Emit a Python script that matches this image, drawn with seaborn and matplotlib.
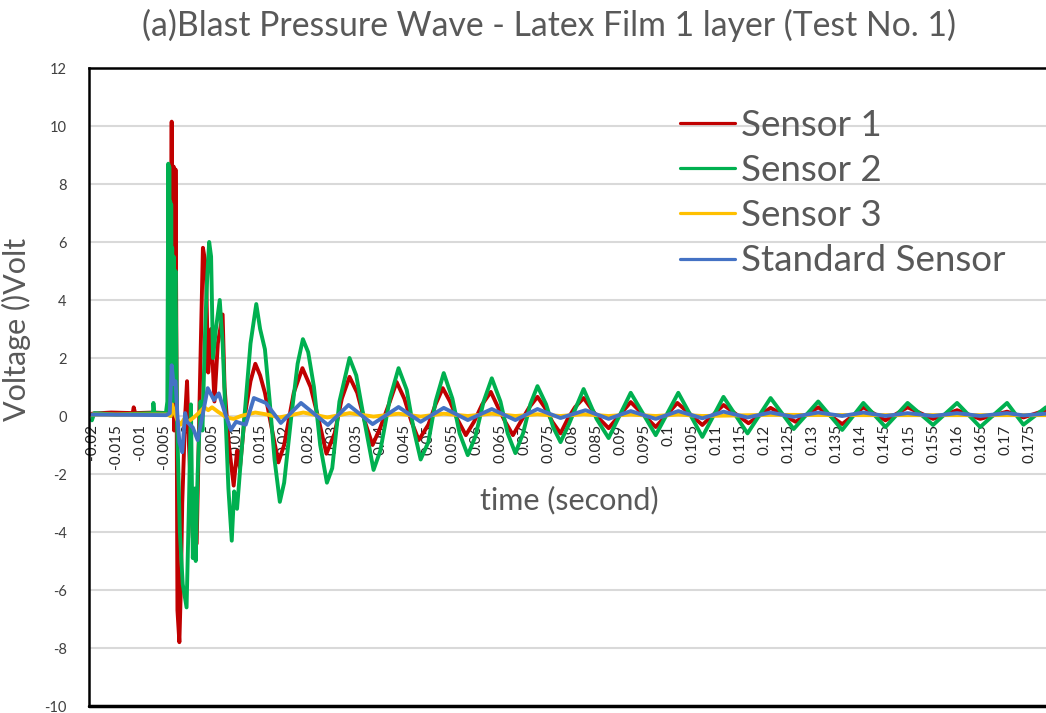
import numpy as np
import pandas as pd
import matplotlib
matplotlib.use("Agg")
import matplotlib.pyplot as plt
import seaborn as sns

# ---- recorded signals (time in s, voltage in V) ----
s1_t = [-0.0200, -0.0160, -0.0115, -0.0113, -0.0110, -0.0070, -0.0045, -0.0036,
        -0.0034, -0.0033, -0.0032, -0.0031, -0.0030, -0.0029, -0.0028, -0.0027,
        -0.0026, -0.0024, -0.0022, -0.0018, -0.0015, -0.0012,
        -0.0006, -0.0002, 0.0002, 0.0010, 0.0018, 0.0024, 0.0031, 0.0037,
        0.0042, 0.0048, 0.0055, 0.0062, 0.0072, 0.0076, 0.0085, 0.0095,
        0.0102, 0.0108, 0.0118, 0.0130, 0.0140, 0.0150, 0.0160, 0.0175,
        0.0188, 0.0200, 0.0220, 0.0238, 0.0255, 0.0270, 0.0288, 0.0305,
        0.0320, 0.0336, 0.0352, 0.0368, 0.0384, 0.0400, 0.0420, 0.0434,
        0.0450, 0.0465, 0.0480, 0.0500, 0.0515, 0.0530, 0.0545, 0.0560,
        0.0578, 0.0595, 0.0612, 0.0630, 0.0645, 0.0660, 0.0676, 0.0692,
        0.0710, 0.0727, 0.0742, 0.0758, 0.0775, 0.0790, 0.0805, 0.0823,
        0.0850, 0.0875, 0.0921, 0.0973, 0.1018, 0.1070, 0.1114, 0.1166,
        0.1212, 0.1264, 0.1311, 0.1361, 0.1405, 0.1451, 0.1497, 0.1550,
        0.1600, 0.1648, 0.1704, 0.1738, 0.1785]
s1_v = [0.08, 0.12, 0.10, 0.30, 0.10, 0.12, 0.10, 0.20,
        10.15, 0.50, 8.60, 1.00, 8.60, -0.50, 8.50, 0.00,
        8.50, 2.00, -6.70, -7.80, -6.00, -3.00,
        0.00, 1.20, -1.00, -4.20, -4.40, 0.50, 5.80, 5.20,
        1.50, 3.00, 0.50, 2.50, 3.50, 1.00, -1.00, -2.40,
        -1.20, -1.80, 0.00, 1.20, 1.80, 1.40, 0.80, -0.50,
        -1.60, -1.00, 0.80, 1.65, 1.00, 0.00, -1.30, -0.60,
        0.60, 1.35, 0.80, -0.20, -1.00, -0.40, 0.50, 1.17,
        0.60, -0.20, -0.83, -0.30, 0.40, 0.96, 0.50, -0.10,
        -0.66, -0.20, 0.40, 0.83, 0.30, -0.20, -0.66, -0.20,
        0.30, 0.66, 0.30, -0.20, -0.60, -0.10, 0.30, 0.62,
        0.00, -0.42, 0.48, -0.38, 0.45, -0.31, 0.38, -0.25,
        0.28, -0.20, 0.30, -0.28, 0.30, -0.15, 0.30, -0.10,
        0.20, -0.10, 0.15, -0.05, 0.20]

s2_t = [-0.0200, -0.0195, -0.0150, -0.0073, -0.0072, -0.0070, -0.0046, -0.0043,
        -0.0041, -0.0040, -0.0039, -0.0038, -0.0037, -0.0036, -0.0035, -0.0034,
        -0.0033, -0.0031, -0.0030, -0.0028, -0.0026, -0.0023, -0.0017,
        -0.0011, -0.0003, 0.0002, 0.0006, 0.0010, 0.0014, 0.0016, 0.0020,
        0.0026, 0.0030, 0.0036, 0.0040, 0.0044, 0.0048, 0.0052, 0.0058,
        0.0066, 0.0072, 0.0078, 0.0084, 0.0091, 0.0096, 0.0102, 0.0110,
        0.0120, 0.0130, 0.0142, 0.0150, 0.0160, 0.0170, 0.0180, 0.0191,
        0.0200, 0.0215, 0.0228, 0.0239, 0.0250, 0.0262, 0.0275, 0.0289,
        0.0300, 0.0315, 0.0336, 0.0350, 0.0365, 0.0386, 0.0400, 0.0420,
        0.0438, 0.0455, 0.0470, 0.0484, 0.0500, 0.0515, 0.0532, 0.0550,
        0.0565, 0.0582, 0.0598, 0.0615, 0.0632, 0.0650, 0.0665, 0.0681,
        0.0697, 0.0712, 0.0727, 0.0745, 0.0760, 0.0775, 0.0792, 0.0823,
        0.0850, 0.0875, 0.0921, 0.0973, 0.1020, 0.1070, 0.1114, 0.1164,
        0.1212, 0.1260, 0.1311, 0.1361, 0.1405, 0.1451, 0.1497, 0.1550,
        0.1600, 0.1648, 0.1704, 0.1738, 0.1785]
s2_v = [-0.15, 0.10, 0.05, 0.10, 0.45, 0.10, 0.10, 0.50,
        8.70, 0.50, 8.60, 1.00, 7.40, 0.00, 7.30, 2.00,
        5.80, 0.50, 5.50, 3.00, 5.00, 0.00, -4.00,
        -5.80, -6.60, -3.00, 0.40, -4.90, -2.50, -5.00, -2.00,
        0.50, -0.50, 3.20, 4.80, 6.00, 5.50, 2.00, 3.00,
        4.00, 2.50, 0.00, -2.50, -4.30, -2.60, -3.20, -1.50,
        0.50, 2.50, 3.86, 3.00, 2.30, 0.50, -1.50, -2.96,
        -2.30, 0.00, 1.80, 2.65, 2.20, 1.00, -1.00, -2.30,
        -1.80, 0.50, 2.00, 1.40, 0.00, -1.86, -1.20, 0.60,
        1.65, 0.90, -0.50, -1.50, -0.90, 0.50, 1.48, 0.60,
        -0.60, -1.35, -0.70, 0.50, 1.30, 0.50, -0.60, -1.28,
        -0.60, 0.40, 1.03, 0.40, -0.40, -0.90, -0.30, 0.93,
        -0.10, -0.76, 0.80, -0.66, 0.80, -0.72, 0.66, -0.60,
        0.62, -0.45, 0.50, -0.48, 0.45, -0.38, 0.45, -0.31,
        0.45, -0.38, 0.45, -0.30, 0.30]

s3_t = [-0.0200, -0.0045, -0.0036, -0.0033, -0.0028, -0.0022, -0.0015, -0.0008,
        0.0000, 0.0012, 0.0022, 0.0034, 0.0042, 0.0050, 0.0062, 0.0080,
        0.0095, 0.0110, 0.0140, 0.0165, 0.0190, 0.0240, 0.0290, 0.0336,
        0.0386, 0.0438, 0.0484, 0.0532, 0.0582, 0.0632, 0.0681, 0.0727,
        0.0775, 0.0823, 0.0875, 0.0921, 0.0973, 0.1020, 0.1070, 0.1212,
        0.1405, 0.1600, 0.1785]
s3_v = [0.05, 0.05, 0.00, 0.40, 0.10, -0.15, -0.30, -0.10,
        -0.20, -0.05, 0.10, 0.30, 0.20, 0.30, 0.15, -0.05,
        -0.10, 0.00, 0.12, 0.05, -0.05, 0.12, -0.05, 0.10,
        -0.02, 0.08, -0.02, 0.08, 0.00, 0.08, 0.00, 0.06,
        0.00, 0.06, 0.00, 0.05, 0.00, 0.05, 0.00, 0.04,
        0.03, 0.03, 0.03]

std_t = [-0.0200, -0.0045, -0.0038, -0.0034, -0.0030, -0.0026, -0.0022, -0.0018,
         -0.0012, -0.0006, -0.0002, 0.0010, 0.0020, 0.0030, 0.0041, 0.0054,
         0.0064, 0.0075, 0.0089, 0.0100, 0.0110, 0.0120, 0.0137, 0.0162,
         0.0193, 0.0235, 0.0291, 0.0334, 0.0384, 0.0438, 0.0484, 0.0532,
         0.0582, 0.0632, 0.0681, 0.0727, 0.0775, 0.0827, 0.0875, 0.0921,
         0.0973, 0.1020, 0.1070, 0.1114, 0.1164, 0.1212, 0.1260, 0.1311,
         0.1361, 0.1405, 0.1451, 0.1497, 0.1550, 0.1600, 0.1648, 0.1704,
         0.1738, 0.1785]
std_v = [0.05, 0.03, 0.10, 1.75, 1.10, 1.20, 0.00, -0.90,
         -1.25, 0.10, -0.20, -0.40, -0.83, 0.00, 0.96, 0.55,
         0.78, 0.20, -0.48, -0.20, -0.25, -0.30, 0.62, 0.45,
         -0.24, 0.45, -0.31, 0.38, -0.28, 0.31, -0.20, 0.28,
         -0.14, 0.24, -0.14, 0.24, -0.07, 0.20, -0.10, 0.17,
         -0.10, 0.17, -0.08, 0.15, -0.05, 0.12, -0.03, 0.12,
         0.00, 0.12, 0.00, 0.10, 0.00, 0.10, 0.00, 0.10,
         0.02, 0.08]

series_names = ["Sensor 1", "Sensor 2", "Sensor 3", "Standard Sensor"]
series_colors = ["#C00000", "#00B050", "#FFC000", "#4472C4"]

y_ticks = list(range(-10, 13, 2))
x_ticks = [-0.02, -0.015, -0.01, -0.005, 0, 0.005, 0.01, 0.015, 0.02, 0.025,
           0.03, 0.035, 0.04, 0.045, 0.05, 0.055, 0.06, 0.065, 0.07, 0.075,
           0.08, 0.085, 0.09, 0.095, 0.1, 0.105, 0.11, 0.115, 0.12, 0.125,
           0.13, 0.135, 0.14, 0.145, 0.15, 0.155, 0.16, 0.165, 0.17, 0.175]
x_tick_labels = ["-0.02", "-0.015", "-0.01", "-0.005", "0", "0.005", "0.01",
                 "0.015", "0.02", "0.025", "0.03", "0.035", "0.04", "0.045",
                 "0.05", "0.055", "0.06", "0.065", "0.07", "0.075", "0.08",
                 "0.085", "0.09", "0.095", "0.1", "0.105", "0.11", "0.115",
                 "0.12", "0.125", "0.13", "0.135", "0.14", "0.145", "0.15",
                 "0.155", "0.16", "0.165", "0.17", "0.175"]

frames = []
for name, t, v in zip(series_names, [s1_t, s2_t, s3_t, std_t],
                      [s1_v, s2_v, s3_v, std_v]):
    frames.append(pd.DataFrame({"time": t, "voltage": v, "sensor": name}))
df = pd.concat(frames, ignore_index=True)

sns.set_theme(style="white")
plt.rcParams["font.family"] = ["Lato", "DejaVu Sans"]
text_grey = "#595959"

fig = plt.figure(figsize=(10.46, 7.13), dpi=100)
W, H = 1046, 713
ax = fig.add_axes([89 / W, (H - 706) / H, (1050 - 89) / W, (706 - 68) / H])

sns.lineplot(data=df, x="time", y="voltage", hue="sensor",
             hue_order=series_names, palette=series_colors,
             estimator=None, sort=True, linewidth=2.8, legend=False, ax=ax)

ax.set_xlim(-0.0206, 0.1785 + 4 / 4820)
ax.set_ylim(-10, 12)
ax.set_yticks(y_ticks)
ax.set_yticklabels([str(v) for v in y_ticks], fontsize=10.5, color="#404040")
ax.set_xticks(x_ticks)
ax.set_xticklabels(x_tick_labels, fontsize=13.5, color=text_grey)
ax.tick_params(axis="both", length=0)
ax.tick_params(axis="x", pad=6, labelrotation=90)
ax.tick_params(axis="y", pad=16)
for lbl in ax.get_xticklabels():
    lbl.set_verticalalignment("top")
    lbl.set_horizontalalignment("center")

ax.grid(axis="y", color="#d9d9d9", linewidth=1.5)
ax.grid(axis="x", visible=False)
ax.set_axisbelow(True)

# horizontal axis crosses at zero; the plot frame is drawn separately
ax.spines["bottom"].set_position(("data", 0))
ax.spines["bottom"].set_color("none")
ax.spines["right"].set_visible(False)
for side in ("left", "top"):
    ax.spines[side].set_color("black")
    ax.spines[side].set_linewidth(1.8)
ax.plot([0, 1], [0, 0], transform=ax.transAxes, color="black",
        linewidth=2.5, clip_on=False, zorder=5)

ax.set_xlabel("time (second)", fontsize=22, color=text_grey, labelpad=12)
ax.set_ylabel("Voltage ()Volt", fontsize=22, color=text_grey)
ax.yaxis.set_label_coords(-0.06, 0.59)

fig.text(549 / W, 1 - 25 / H,
         "(a)Blast Pressure Wave - Latex Film 1 layer (Test No. 1)",
         ha="center", va="center", fontsize=24.3, color=text_grey)

handles = ax.get_lines()[:4]
leg = ax.legend(handles, series_names, loc="upper left",
                bbox_to_anchor=((680 - 89) / 961, (706 - 109) / 638),
                frameon=False, fontsize=26.5, handlelength=1.5,
                handletextpad=0.15, labelspacing=0.33, borderpad=0,
                borderaxespad=0)
for txt in leg.get_texts():
    txt.set_color(text_grey)
for ln in leg.get_lines():
    ln.set_linewidth(2.3)

fig.savefig("out.png", dpi=100)
